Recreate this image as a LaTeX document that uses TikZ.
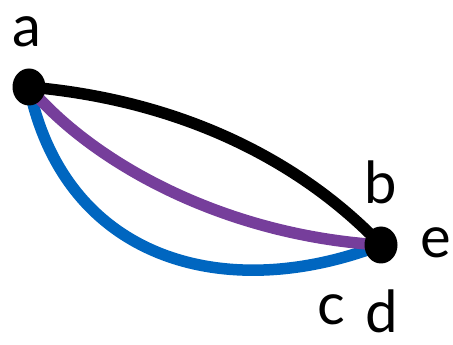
\documentclass[tikz,border=0pt]{standalone}
\usepackage{fontspec}
\usetikzlibrary{shapes.geometric}
\setmainfont{Lato}
\definecolor{cpurple}{HTML}{763E9B}
\definecolor{cblue}{HTML}{0066C0}
\begin{document}
\begin{tikzpicture}[x=1pt,y=1pt,
  dot/.style={ellipse,fill=black,inner sep=0pt,minimum width=33pt,minimum height=37pt},
  lbl/.style={font=\fontsize{58}{62}\selectfont,inner sep=0pt},
  edge/.style={line width=11.5pt}]
\useasboundingbox (0,0) rectangle (453,345);
\coordinate (pa) at (29,258);
\coordinate (pd) at (381,100);
\draw[edge,cblue] (pa) .. controls (65,85) and (225,40) .. (pd);
\draw[edge,cpurple] (pa) .. controls (90,185) and (220,110) .. (pd);
\draw[edge,black] (pa) .. controls (180,245) and (300,185) .. (pd);
\node[dot] (a) at (pa) {};
\node[dot] (d) at (pd) {};
\node[lbl] (la) at (27,313) {a};
\node[lbl] (lb) at (381,163) {b};
\node[lbl] (le) at (436,102) {e};
\node[lbl] (lc) at (331,35) {c};
\node[lbl] (ld) at (382,34) {d};
\end{tikzpicture}
\end{document}
